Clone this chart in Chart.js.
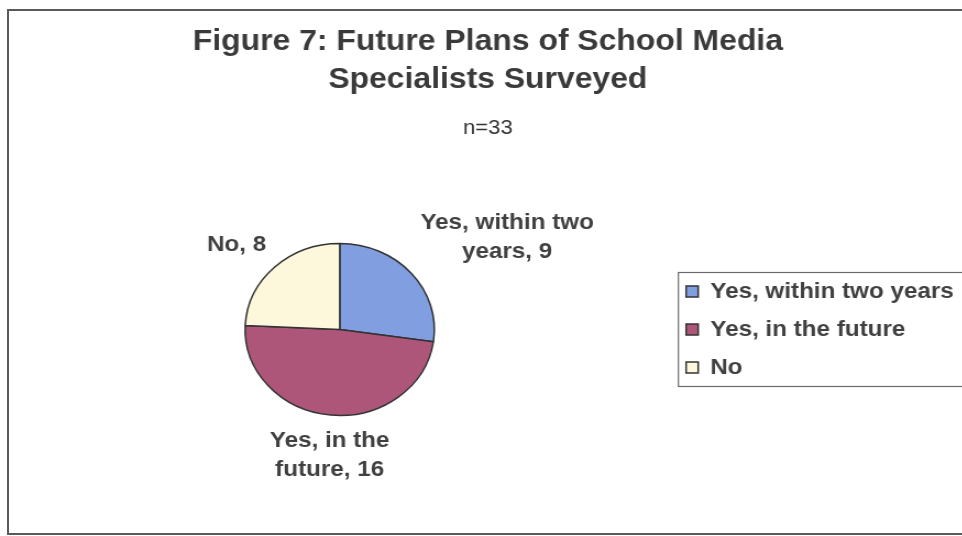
<!DOCTYPE html>
<html>
<head>
<meta charset="utf-8">
<script src="https://cdn.jsdelivr.net/npm/chart.js@4/dist/chart.umd.min.js"></script>
<style>
  html, body { margin: 0; padding: 0; background: #fff; overflow: hidden; }
  #frame { position: absolute; left: 7px; top: 9px; width: 1000px; height: 522px; border: 2px solid #5a5a5a; }
  /* the scan is a little wider than tall, so the drawing is stretched sideways */
  #wrap { position: absolute; left: 0; top: 0; width: 891px; height: 536px; transform: scaleX(1.1); transform-origin: 0 0; }
</style>
</head>
<body>
<div id="frame"></div>
<div id="wrap"><canvas id="chart"></canvas></div>
<script>
const categories = ['Yes, within two years', 'Yes, in the future', 'No'];
const counts = [9, 16, 8];
const sliceColors = ['#819fe0', '#ae567a', '#fdf8dc'];
const titleLines = ['Figure 7: Future Plans of School Media', 'Specialists Surveyed'];
const subtitleText = 'n=33';

const FONT = '"Liberation Sans", Arial, sans-serif';
const INK = '#404040';
Chart.defaults.font.family = FONT;

function wrapText(ctx, text, maxW) {
	var words = text.split(' ');
	var lines = [];
	var cur = '';
	words.forEach(function(w) {
		var test = cur ? cur + ' ' + w : w;
		if (cur && ctx.measureText(test).width > maxW) {
			lines.push(cur);
			cur = w;
		} else {
			cur = test;
		}
	});
	if (cur) lines.push(cur);
	return lines;
}

// "category, value" labels outside each slice, like the Excel data labels
const sliceLabels = {
	id: 'sliceLabels',
	afterDatasetsDraw(chart) {
		const ctx = chart.ctx;
		const meta = chart.getDatasetMeta(0);
		ctx.save();
		ctx.font = 'bold 22px ' + FONT;
		ctx.fillStyle = INK;
		ctx.textAlign = 'center';
		ctx.textBaseline = 'middle';
		meta.data.forEach(function(arc, i) {
			const p = arc.getProps(['x', 'y', 'startAngle', 'endAngle', 'outerRadius'], true);
			const mid = (p.startAngle + p.endAngle) / 2;
			const dx = Math.cos(mid), dy = Math.sin(mid);
			const dist = p.outerRadius + 11;
			const ax = p.x + dx * dist, ay = p.y + dy * dist;
			const lines = wrapText(ctx, chart.data.labels[i] + ', ' + chart.data.datasets[0].data[i], 170);
			const bw = Math.max.apply(null, lines.map(l => ctx.measureText(l).width));
			const lh = 29;
			const bh = lines.length * lh;
			const left = dx > 0.3 ? ax : (dx < -0.3 ? ax - bw : ax - bw / 2);
			const top = dy < -0.3 ? ay - bh : (dy > 0.3 ? ay : ay - bh / 2);
			lines.forEach(function(l, k) {
				ctx.fillText(l, left + bw / 2, top + lh * k + lh / 2);
			});
		});
		ctx.restore();
	}
};

// thin frame round the legend, running off the right edge
const legendFrame = {
	id: 'legendFrame',
	afterDraw(chart) {
		const boxes = chart.legend && chart.legend.legendHitBoxes;
		if (!boxes || !boxes.length) return;
		const first = boxes[0], last = boxes[boxes.length - 1];
		const ctx = chart.ctx;
		ctx.save();
		ctx.strokeStyle = '#6a6a6a';
		ctx.lineWidth = 1.2;
		ctx.strokeRect(first.left - 7, first.top - 8, chart.width, last.top + last.height - first.top + 16);
		ctx.restore();
	}
};

new Chart(document.getElementById('chart'), {
	type: 'pie',
	data: {
		labels: categories,
		datasets: [{
			data: counts,
			backgroundColor: sliceColors,
			borderColor: '#333',
			borderWidth: 1.5,
			radius: 86
		}]
	},
	options: {
		responsive: true,
		maintainAspectRatio: false,
		animation: false,
		layout: { padding: { left: 10, right: 14, top: 0, bottom: 27 } },
		plugins: {
			title: {
				display: true,
				text: titleLines,
				color: '#3a3a3a',
				fullSize: true,
				font: { size: 29, weight: 'bold', lineHeight: '38px' },
				padding: { top: 23, bottom: 0 }
			},
			subtitle: {
				display: true,
				text: subtitleText,
				color: '#333',
				fullSize: true,
				font: { size: 20, weight: 'normal', lineHeight: 1.2 },
				padding: { top: 17, bottom: 10 }
			},
			legend: {
				position: 'right',
				align: 'center',
				fullSize: false,
				labels: {
					boxWidth: 11,
					boxHeight: 11,
					padding: 16,
					color: INK,
					font: { size: 22, weight: 'bold' }
				}
			},
			tooltip: { enabled: false }
		}
	},
	plugins: [sliceLabels, legendFrame]
});
</script>
</body>
</html>
